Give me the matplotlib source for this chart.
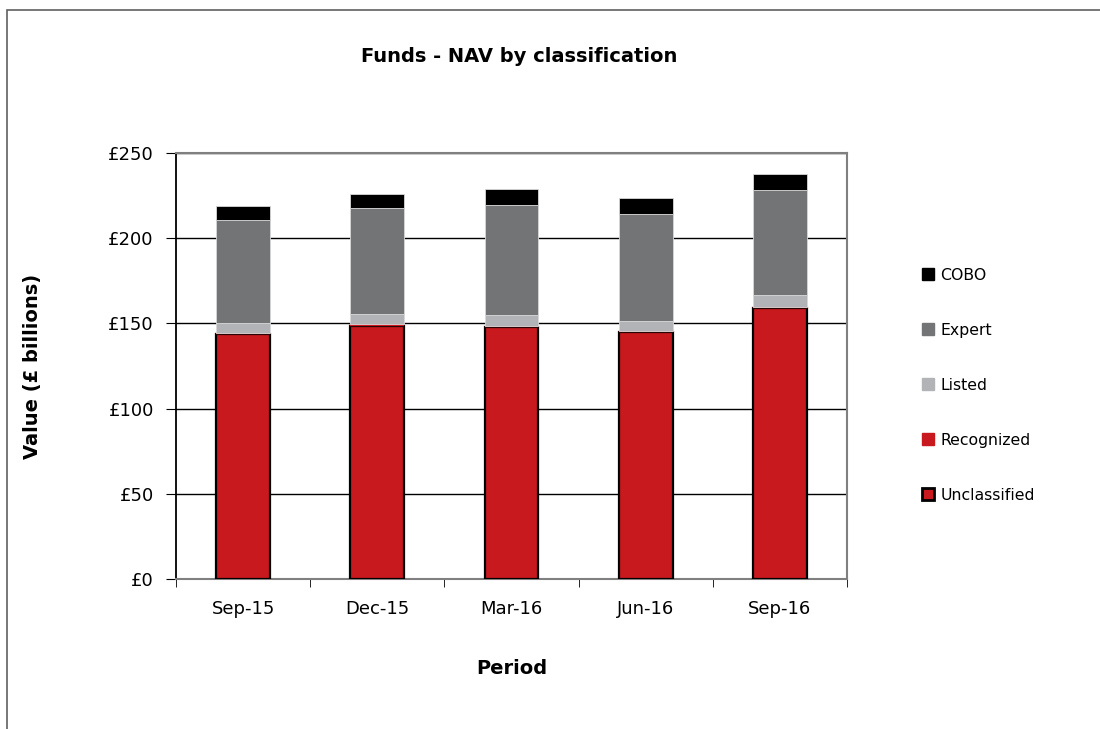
import numpy as np
import matplotlib.pyplot as plt
from matplotlib.patches import Patch, Rectangle

# data (£ billions)
periods = ['Sep-15', 'Dec-15', 'Mar-16', 'Jun-16', 'Sep-16']
unclassified = [143.5, 148.4, 147.6, 144.7, 158.8]
recognized = [1.0, 1.0, 0.8, 0.8, 1.0]
listed = [5.5, 6.1, 6.5, 6.0, 6.9]
expert = [60.8, 62.1, 64.7, 62.9, 61.3]
cobo = [8.2, 8.4, 9.0, 8.9, 9.4]

series = [
    ('Unclassified', unclassified, '#C8191F', 'black', 1.6),
    ('Recognized', recognized, '#C8191F', '#C8191F', 0.3),
    ('Listed', listed, '#B2B3B6', '#D8D8D8', 0.6),
    ('Expert', expert, '#737476', '#D8D8D8', 0.6),
    ('COBO', cobo, '#000000', '#D8D8D8', 0.6),
]

plt.rcParams['font.family'] = ['DejaVu Sans']

fig = plt.figure(figsize=(11, 7.29), dpi=100)
ax = fig.add_axes([0.16, 0.2058, 0.61, 0.5844])

x = np.arange(len(periods))
bottom = np.zeros(len(periods))
for name, vals, fc, ec, lw in series:
    ax.bar(x, vals, width=0.4, bottom=bottom, color=fc, edgecolor=ec,
           linewidth=lw, zorder=3)
    bottom += np.array(vals)

ax.set_xlim(-0.5, len(periods) - 0.5)
ax.set_ylim(0, 250)
ax.set_yticks(np.arange(0, 251, 50))
ax.set_yticklabels([f'£{v}' for v in range(0, 251, 50)], fontsize=13)
ax.set_xticks(x)
ax.set_xticklabels(periods, fontsize=13)
ax.set_xticks(np.arange(-0.5, len(periods)), minor=True)
ax.tick_params(axis='x', which='major', length=0, pad=15)
ax.tick_params(axis='x', which='minor', length=6, direction='out', color='black')
ax.tick_params(axis='y', length=7, direction='out', pad=9)

ax.yaxis.grid(True, color='black', linewidth=1.0, zorder=0)
ax.set_axisbelow(True)
for side in ['top', 'right', 'bottom']:
    ax.spines[side].set_color('#808080')
    ax.spines[side].set_linewidth(1.5)
ax.spines['left'].set_color('black')
ax.spines['left'].set_linewidth(1.3)

ax.set_xlabel('Period', fontsize=14, fontweight='bold', labelpad=30)
ax.set_ylabel('Value (£ billions)', fontsize=14, fontweight='bold')
ax.yaxis.set_label_coords(-0.20, 0.5)

fig.text(0.472, 0.922, 'Funds - NAV by classification', ha='center', va='center',
         fontsize=14, fontweight='bold')

# legend, top entry first
handles = []
for name, vals, fc, ec, lw in reversed(series):
    if name == 'Unclassified':
        handles.append(Patch(facecolor=fc, edgecolor='black', linewidth=2, label=name))
    else:
        handles.append(Patch(facecolor=fc, edgecolor=fc, label=name))
fig.legend(handles=handles, loc='upper left', bbox_to_anchor=(0.825, 0.652),
           frameon=False, fontsize=11.3, labelspacing=2.55, handlelength=0.8,
           handleheight=0.8, handletextpad=0.4)

# outer chart border
fig.patches.append(Rectangle((0.0064, -0.01), 1.2, 0.9963, transform=fig.transFigure,
                             fill=False, edgecolor='#606060', linewidth=1.2))

fig.savefig('out.png', dpi=100)
